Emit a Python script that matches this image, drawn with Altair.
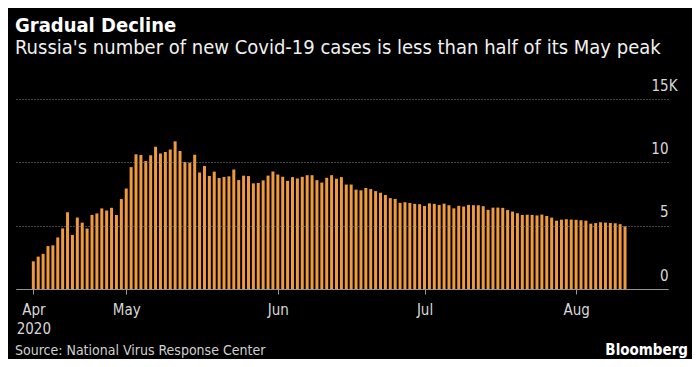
import altair as alt
import pandas as pd

# ---- data ----
start_date = "2020-04-12"
cases = [
    2186, 2558, 2774, 3388, 3448, 4070, 4785, 6060, 4268, 5642,
    5236, 4774, 5849, 5966, 6361, 6198, 6411, 5841, 7099, 7933,
    9623, 10633, 10581, 10102, 10559, 11231, 10699, 10817, 11012, 11656,
    10899, 10028, 9974, 10598, 9200, 9709, 8926, 9263, 8764, 8849,
    8894, 9434, 8599, 8946, 8915, 8338, 8371, 8572, 8952, 9268,
    9035, 8863, 8536, 8831, 8726, 8855, 8984, 8985, 8595, 8404,
    8779, 8987, 8706, 8835, 8246, 8248, 7843, 7790, 7972, 7889,
    7728, 7600, 7425, 7176, 7113, 6800, 6852, 6791, 6719, 6693,
    6556, 6760, 6718, 6632, 6736, 6611, 6368, 6562, 6509, 6635,
    6615, 6611, 6537, 6248, 6422, 6428, 6406, 6234, 6109, 5980,
    5842, 5862, 5848, 5811, 5871, 5765, 5635, 5395, 5475, 5509,
    5482, 5462, 5427, 5394, 5159, 5204, 5267, 5241, 5212, 5189,
    5118, 4945,
]
x_tick_dates = [(2020, 4, 12), (2020, 5, 1), (2020, 6, 1), (2020, 7, 1), (2020, 8, 1)]
y_ticks = [0, 5000, 10000, 15000]

title_text = "Gradual Decline"
subtitle_text = "Russia's number of new Covid-19 cases is less than half of its May peak"
source_text = "Source: National Virus Response Center"
brand_text = "Bloomberg"

FONT = "Liberation Sans Narrow, DejaVu Sans Condensed, Roboto, sans-serif"

dates = pd.date_range(start_date, periods=len(cases), freq="D").strftime("%Y-%m-%d").tolist()
df = pd.DataFrame({"date": dates, "cases": cases})

W, H = 652, 190

x_values = [alt.DateTime(year=y, month=m, date=d, utc=True) for (y, m, d) in x_tick_dates]
x_domain = [
    alt.DateTime(year=2020, month=4, date=8, hours=11, utc=True),
    alt.DateTime(year=2020, month=8, date=19, hours=19, utc=True),
]

bars = alt.Chart(df).mark_bar(color="#EE9A3D", size=3).encode(
    x=alt.X(
        "date:T",
        scale=alt.Scale(type="utc", domain=x_domain, padding=0),
        axis=alt.Axis(
            values=x_values,
            labelExpr="utcFormat(datum.value, '%b') == 'Apr' ? ['Apr', '2020'] : utcFormat(datum.value, '%b')",
            title=None,
            grid=False,
            domainColor="#9a9a9a",
            tickColor="#9a9a9a",
            tickSize=5,
            labelColor="#d8d8d8",
            labelFontSize=15,
            labelFont=FONT,
            labelPadding=8,
            labelLineHeight=19,
            labelFlush=False,
            labelOverlap=False,
        ),
    ),
    y=alt.Y(
        "cases:Q",
        scale=alt.Scale(domain=[0, 15000], nice=False),
        axis=alt.Axis(
            orient="right",
            values=y_ticks,
            labelExpr="datum.value == 15000 ? '15K' : format(datum.value / 1000, 'd')",
            title=None,
            grid=True,
            gridColor="#8a8a8a",
            gridDash=[1, 2],
            gridWidth=1,
            domain=False,
            ticks=False,
            labelAlign="right",
            labelBaseline="alphabetic",
            labelOffset=-9,
            labelPadding={"condition": {"test": "datum.value == 15000", "value": 9}, "value": 0},
            labelColor="#d8d8d8",
            labelFontSize=15,
            labelFont=FONT,
            zindex=1,
        ),
    ),
)

notes = pd.DataFrame({"t": [source_text]})
source = alt.Chart(notes).mark_text(
    align="left", baseline="alphabetic", font=FONT, fontSize=14, color="#d0d0d0"
).encode(x=alt.value(-1), y=alt.value(H + 66), text="t:N")

brand = alt.Chart(pd.DataFrame({"t": [brand_text]})).mark_text(
    align="right", baseline="alphabetic", font=FONT, fontSize=15, fontWeight="bold", color="#ffffff"
).encode(x=alt.value(W + 20), y=alt.value(H + 66), text="t:N")

chart = alt.layer(bars, source, brand).properties(
    width=W,
    height=H,
    background="#000000",
    padding={"left": 8, "top": 91, "right": 24, "bottom": 70},
    autosize=alt.AutoSizeParams(type="none"),
    title=alt.Title(
        title_text,
        subtitle=subtitle_text,
        anchor="start",
        frame="group",
        dx=-1,
        offset=20,
        font=FONT,
        fontSize=20,
        fontWeight="bold",
        color="#ffffff",
        subtitleFont=FONT,
        subtitleFontSize=20,
        subtitleColor="#f0f0f0",
        subtitlePadding=2,
    ),
).configure_view(stroke=None)

chart.save("out.html", embed_options={"renderer": "svg", "actions": False})
